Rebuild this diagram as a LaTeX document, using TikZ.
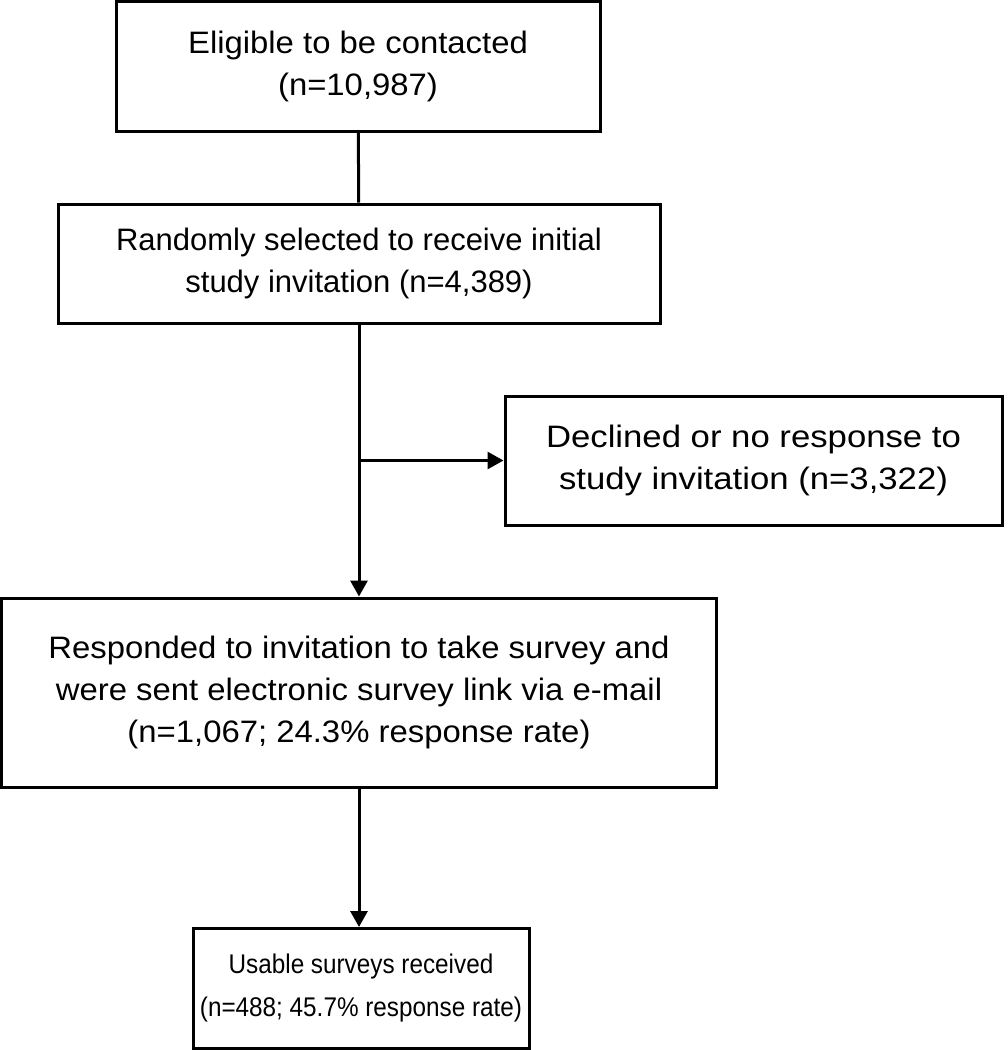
\documentclass[tikz,border=0pt]{standalone}
\usepackage{fontspec}
\setmainfont{Liberation Sans}
\newfontfamily\widefont[FakeStretch=1.06]{Liberation Sans}
\newfontfamily\widerfont[FakeStretch=1.12]{Liberation Sans}
\newfontfamily\narrowfont[FakeStretch=0.9]{Liberation Sans}
\newcommand\boxsize{\fontsize{31}{42}\selectfont}
\usetikzlibrary{arrows.meta}
\begin{document}
\begin{tikzpicture}[x=1pt,y=-1pt,
  box/.style={draw,line width=3pt,align=center,inner sep=0pt,font=\boxsize},
  wide/.style={font=\widefont\boxsize},
  wider/.style={font=\widerfont\boxsize},
  narrow/.style={font=\narrowfont\fontsize{27}{43}\selectfont},
  link/.style={line width=3pt},
  arr/.style={link,-{Triangle[width=17pt,length=16pt]}}]
\useasboundingbox (0,0) rectangle (1008,1050);
\node[box,wide,minimum width=484pt,minimum height=130pt] (elig) at (358,66) {Eligible to be contacted\\(n=10,987)};
\node[box,minimum width=602pt,minimum height=119pt] (rand) at (359,263.5) {Randomly selected to receive initial\\study invitation (n=4,389)};
\node[box,wider,minimum width=497pt,minimum height=129pt] (decl) at (753.5,460.5) {Declined or no response to\\study invitation (n=3,322)};
\node[box,wide,minimum width=715pt,minimum height=189pt] (resp) at (359,692.5) {Responded to invitation to take survey and\\were sent electronic survey link via e-mail\\(n=1,067; 24.3\% response rate)};
\node[box,narrow,minimum width=336pt,minimum height=120pt] (usable) at (361,988.5) {Usable surveys received\\(n=488; 45.7\% response rate)};
\coordinate (split) at (359,460.5);
\draw[link] (elig) -- (rand);
\draw[arr] (rand) -- (resp);
\draw[arr] (split) -- (decl);
\draw[arr] (resp.south) -- (usable.north -| resp.south);
\end{tikzpicture}
\end{document}
